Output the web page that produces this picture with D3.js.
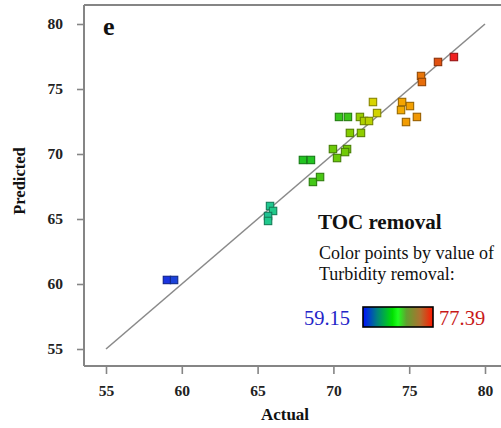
<!DOCTYPE html>
<html>
<head>
<meta charset="utf-8">
<script src="https://cdn.jsdelivr.net/npm/d3@7"></script>
<style>
  html, body { margin: 0; padding: 0; background: #fff; }
  svg { display: block; }
  text { font-family: "Liberation Serif", "Times New Roman", serif; }
</style>
</head>
<body>
<svg id="chart" width="501" height="428"></svg>
<script>
// ---- data ----
const actual = [59.02, 59.49, 65.82, 66.02, 65.69, 65.69, 67.99, 68.52, 68.65, 69.12,
  69.97, 70.90, 70.24, 70.77, 71.09, 71.82, 70.37, 70.96, 71.75, 72.02,
  72.35, 72.88, 72.61, 74.53, 75.05, 74.46, 75.51, 74.79, 75.78, 75.84,
  76.90, 77.95];
const predicted = [60.31, 60.31, 66.00, 65.62, 65.23, 64.85, 69.54, 69.54, 67.85, 68.23,
  70.38, 70.38, 69.69, 70.15, 71.62, 71.62, 72.85, 72.85, 72.85, 72.54,
  72.54, 73.15, 74.00, 74.00, 73.69, 73.38, 72.85, 72.46, 76.00, 75.54,
  77.08, 77.46];
const turbidity = [59.15, 59.6, 64.0, 64.2, 63.8, 64.1, 67.0, 67.0, 68.0, 68.2,
  69.3, 69.5, 69.2, 69.4, 70.0, 70.3, 67.6, 67.8, 70.6, 71.2,
  71.5, 72.2, 72.4, 74.5, 74.6, 74.3, 74.8, 74.7, 75.6, 75.8,
  76.5, 77.39];
const xTicks = [55, 60, 65, 70, 75, 80];
const yTicks = [55, 60, 65, 70, 75, 80];
const colorMin = 59.15, colorMax = 77.39;
const legendTitle = "TOC removal";
const legendLines = ["Color points by value of", "Turbidity removal:"];

// ---- chart ----
const serif = '"Liberation Serif", "Times New Roman", serif';
const svg = d3.select("#chart");
const x = d3.scaleLinear().domain([55, 80]).range([106, 485]);
const y = d3.scaleLinear().domain([55, 80]).range([349, 24]);
const color = d3.scaleLinear()
  .domain([59.15, 64, 67, 70, 72.5, 74.5, 76.5, 77.39])
  .range(['#1a34e0', '#20c890', '#22c422', '#84cc00', '#dcd400', '#f4a400', '#e05010', '#f02020'])
  .interpolate(d3.interpolateRgb);

const axisColor = "#858585";
const frameL = 84, frameB = 366, frameT = 5, frameR = 501;

// frame
svg.append("line").attr("x1", frameL).attr("x2", frameR).attr("y1", frameT).attr("y2", frameT)
  .attr("stroke", axisColor).attr("stroke-width", 2);
svg.append("line").attr("x1", frameL).attr("x2", frameL).attr("y1", frameT).attr("y2", frameB)
  .attr("stroke", axisColor).attr("stroke-width", 2);
svg.append("line").attr("x1", frameL).attr("x2", frameR).attr("y1", frameB).attr("y2", frameB)
  .attr("stroke", axisColor).attr("stroke-width", 2);

// axes
const yAxis = svg.append("g").attr("transform", `translate(${frameL},0)`)
  .call(d3.axisLeft(y).tickValues(yTicks).tickSize(7).tickPadding(14));
const xAxis = svg.append("g").attr("transform", `translate(0,${frameB})`)
  .call(d3.axisBottom(x).tickValues(xTicks).tickSize(8).tickPadding(11));
[xAxis, yAxis].forEach(g => {
  g.attr("font-family", serif).attr("font-size", 15.5);
  g.select(".domain").remove();
  g.selectAll(".tick line").attr("stroke", axisColor).attr("stroke-width", 1.6);
  g.selectAll(".tick text")
    .attr("fill", "#222")
    .attr("font-family", serif)
    .style("font-size", "15.5px").style("font-weight", "bold");
});

// axis titles
svg.append("text").attr("transform", "translate(25,181) rotate(-90)")
  .attr("text-anchor", "middle").style("font-size", "16.5px").style("font-weight", "bold")
  .attr("fill", "#111").text("Predicted");
svg.append("text").attr("x", 285).attr("y", 420)
  .attr("text-anchor", "middle").style("font-size", "17px").style("font-weight", "bold")
  .attr("fill", "#111").text("Actual");

// panel letter
svg.append("text").attr("x", 103).attr("y", 35)
  .style("font-size", "26px").style("font-weight", "bold").attr("fill", "#111").text("e");

// diagonal line
svg.append("line")
  .attr("x1", x(55)).attr("y1", y(55)).attr("x2", x(80)).attr("y2", y(80))
  .attr("stroke", "#8a8a8a").attr("stroke-width", 1.6);

// points
const pts = actual.map((a, i) => ({ a, p: predicted[i], t: turbidity[i] }));
const s = 7.4;
svg.append("g").selectAll("rect").data(pts).join("rect")
  .attr("x", d => x(d.a) - s / 2).attr("y", d => y(d.p) - s / 2)
  .attr("width", s).attr("height", s)
  .attr("fill", d => color(d.t))
  .attr("stroke", d => d3.color(color(d.t)).darker(1.3))
  .attr("stroke-width", 1.1);

// legend
svg.append("text").attr("x", 318).attr("y", 229)
  .style("font-size", "21px").style("font-weight", "bold").attr("fill", "#111").text(legendTitle);
svg.append("g").selectAll("text").data(legendLines).join("text")
  .attr("x", 319).attr("y", (d, i) => 259 + i * 21)
  .style("font-size", "18px").attr("fill", "#111").text(d => d);

const defs = svg.append("defs");
const grad = defs.append("linearGradient").attr("id", "cbar")
  .attr("x1", "0%").attr("x2", "100%").attr("y1", "0%").attr("y2", "0%");
const stops = [[0, "#0010ff"], [0.2, "#008080"], [0.42, "#00e000"], [0.5, "#20ff20"],
  [0.62, "#60a030"], [0.82, "#b07030"], [1, "#ff1800"]];
grad.selectAll("stop").data(stops).join("stop")
  .attr("offset", d => d[0]).attr("stop-color", d => d[1]);
svg.append("rect").attr("x", 363).attr("y", 307).attr("width", 70).attr("height", 20)
  .attr("fill", "url(#cbar)").attr("stroke", "#000").attr("stroke-width", 1.6);
svg.append("text").attr("x", 350).attr("y", 325).attr("text-anchor", "end")
  .attr("font-family", serif)
  .style("font-size", "20.5px").attr("fill", "#2424c8").text(colorMin.toFixed(2));
svg.append("text").attr("x", 439).attr("y", 325)
  .attr("font-family", serif)
  .style("font-size", "20.5px").attr("fill", "#c81818").text(colorMax.toFixed(2));
</script>
</body>
</html>
